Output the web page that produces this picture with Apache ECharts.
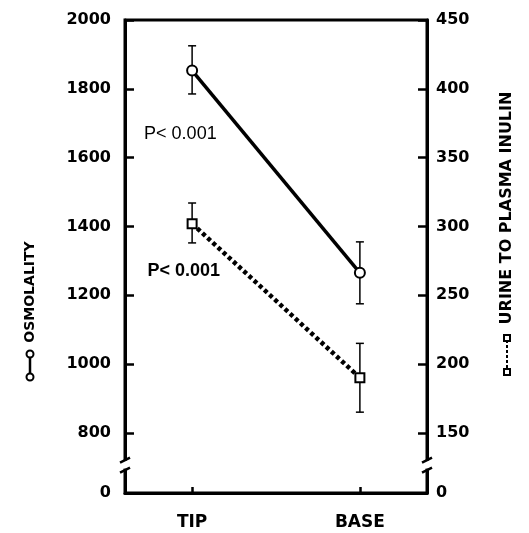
<!DOCTYPE html>
<html><head><meta charset="utf-8">
<script src="https://cdn.jsdelivr.net/npm/echarts@6/dist/echarts.min.js"></script>
<style>html,body{margin:0;padding:0;background:#fff}#c{width:529px;height:533px}</style>
</head><body><div id="c"></div>
<script>
// ---- data ----
const categories = ['TIP', 'BASE'];
const osmolality = [1853, 1265];
const osmolalityErr = [[1785, 1925], [1175, 1355]];
const inulin = [302, 190];
const inulinErr = [[288, 317], [165, 215]];
const leftTicks = [800, 1000, 1200, 1400, 1600, 1800, 2000];
const rightTicks = [150, 200, 250, 300, 350, 400, 450];
const leftZero = 625;     // axis value standing for "0" below the break
const rightZero = 106.25; // same for the right axis
const pLabels = ['P< 0.001', 'P< 0.001'];
const leftTitle = 'OSMOLALITY';
const rightTitle = 'URINE TO PLASMA INULIN';

const FONT = '"DejaVu Sans", "Liberation Sans", Arial, sans-serif';
const FONT2 = '"Liberation Sans", Arial, Helvetica, sans-serif';
const chart = echarts.init(document.getElementById('c'), null, {renderer: 'canvas'});

function errRender(params, api) {
  const x = api.value(0);
  const lo = api.coord([x, api.value(1)]);
  const hi = api.coord([x, api.value(2)]);
  const w = 4;
  const st = {stroke: '#000', lineWidth: 1.5};
  return {type: 'group', children: [
    {type: 'line', shape: {x1: lo[0], y1: lo[1], x2: hi[0], y2: hi[1]}, style: st},
    {type: 'line', shape: {x1: lo[0] - w, y1: lo[1], x2: lo[0] + w, y2: lo[1]}, style: st},
    {type: 'line', shape: {x1: hi[0] - w, y1: hi[1], x2: hi[0] + w, y2: hi[1]}, style: st}
  ]};
}

const axisLine = {show: true, onZero: false, lineStyle: {color: '#000', width: 3}};
const labelStyle = {color: '#000', fontFamily: FONT, fontWeight: 'bold', fontSize: 16};

const option = {
  animation: false,
  backgroundColor: '#fff',
  grid: {left: 125, right: 102, top: 20, bottom: 40, show: true, borderColor: '#000', borderWidth: 3, backgroundColor: 'transparent'},
  xAxis: {
    type: 'value', min: -0.4, max: 1.4,
    axisLine: axisLine,
    axisTick: {show: true, inside: true, length: 6, customValues: [0, 1], lineStyle: {color: '#000', width: 2.5}},
    axisLabel: Object.assign({}, labelStyle, {fontSize: 17, customValues: [0, 1], margin: 21, formatter: v => categories[Math.round(v)]}),
    splitLine: {show: false}
  },
  yAxis: [{
    type: 'value', min: leftZero, max: 2000, position: 'left',
    axisLine: axisLine,
    axisTick: {show: true, inside: true, length: 9, customValues: leftTicks, lineStyle: {color: '#000', width: 2.5}},
    axisLabel: Object.assign({}, labelStyle, {customValues: [leftZero].concat(leftTicks), margin: 14,
      formatter: v => (Math.abs(v - leftZero) < 1e-6 ? '0' : String(v))}),
    splitLine: {show: false}
  }, {
    type: 'value', min: rightZero, max: 450, position: 'right',
    axisLine: axisLine,
    axisTick: {show: true, inside: true, length: 9, customValues: rightTicks, lineStyle: {color: '#000', width: 2.5}},
    axisLabel: Object.assign({}, labelStyle, {customValues: [rightZero].concat(rightTicks), margin: 9,
      formatter: v => (Math.abs(v - rightZero) < 1e-6 ? '0' : String(v))}),
    splitLine: {show: false}
  }],
  series: [{
    type: 'custom', name: 'osmErr', yAxisIndex: 0, renderItem: errRender, z: 1,
    data: osmolalityErr.map((e, i) => [i, e[0], e[1]])
  }, {
    type: 'custom', name: 'inuErr', yAxisIndex: 1, renderItem: errRender, z: 1,
    data: inulinErr.map((e, i) => [i, e[0], e[1]])
  }, {
    type: 'line', name: leftTitle, yAxisIndex: 0, z: 3,
    data: osmolality.map((v, i) => [i, v]),
    symbol: 'circle', symbolSize: 10,
    itemStyle: {color: '#fff', borderColor: '#000', borderWidth: 2},
    lineStyle: {color: '#000', width: 3.5}
  }, {
    type: 'line', name: rightTitle, yAxisIndex: 1, z: 3,
    data: inulin.map((v, i) => [i, v]),
    symbol: 'rect', symbolSize: 9,
    itemStyle: {color: '#fff', borderColor: '#000', borderWidth: 2},
    lineStyle: {color: '#000', width: 4.5, type: [4, 3]}
  }]
};
chart.setOption(option);

// ---- decorations positioned through the axes ----
const lx = chart.convertToPixel({xAxisIndex: 0}, -0.4);
const rx = chart.convertToPixel({xAxisIndex: 0}, 1.4);
const ly1 = chart.convertToPixel({yAxisIndex: 0}, 722);
const ly2 = chart.convertToPixel({yAxisIndex: 0}, 693);
const graphics = [];
[lx, rx].forEach(x => {
  graphics.push({type: 'rect', shape: {x: x - 6, y: ly1 + 1, width: 12, height: ly2 - ly1 - 2}, style: {fill: '#fff'}, z: 100});
  graphics.push({type: 'line', shape: {x1: x - 5, y1: ly1 + 3, x2: x + 5, y2: ly1 - 2}, style: {stroke: '#000', lineWidth: 2.5}, z: 101});
  graphics.push({type: 'line', shape: {x1: x - 5, y1: ly2 + 3, x2: x + 5, y2: ly2 - 2}, style: {stroke: '#000', lineWidth: 2.5}, z: 101});
});
const p1 = chart.convertToPixel({xAxisIndex: 0, yAxisIndex: 0}, [-0.07, 1669]);
const p2 = chart.convertToPixel({xAxisIndex: 0, yAxisIndex: 0}, [-0.05, 1269]);
graphics.push({type: 'text', x: p1[0], y: p1[1], style: {text: pLabels[0], fill: '#000', font: '18px ' + FONT2, align: 'center', verticalAlign: 'middle'}, z: 50});
graphics.push({type: 'text', x: p2[0], y: p2[1], style: {text: pLabels[1], fill: '#000', font: 'bold 18px ' + FONT2, align: 'center', verticalAlign: 'middle'}, z: 50});

// left title with circle symbol
graphics.push({type: 'text', x: 30, y: 292, rotation: Math.PI / 2, style: {text: leftTitle, fill: '#000', font: 'bold 14px ' + FONT, align: 'center', verticalAlign: 'middle'}});
graphics.push({type: 'line', shape: {x1: 30, y1: 354, x2: 30, y2: 377}, style: {stroke: '#000', lineWidth: 2.5}});
graphics.push({type: 'circle', shape: {cx: 30, cy: 354, r: 3.5}, style: {fill: '#fff', stroke: '#000', lineWidth: 2}});
graphics.push({type: 'circle', shape: {cx: 30, cy: 377, r: 3.5}, style: {fill: '#fff', stroke: '#000', lineWidth: 2}});
// right title with square symbol
graphics.push({type: 'text', x: 507, y: 208, rotation: Math.PI / 2, style: {text: rightTitle, fill: '#000', font: 'bold 16px ' + FONT, align: 'center', verticalAlign: 'middle'}});
graphics.push({type: 'line', shape: {x1: 507, y1: 340, x2: 507, y2: 370}, style: {stroke: '#000', lineWidth: 2, lineDash: [3, 2]}});
graphics.push({type: 'rect', shape: {x: 504, y: 335, width: 6, height: 6}, style: {fill: '#fff', stroke: '#000', lineWidth: 2}});
graphics.push({type: 'rect', shape: {x: 504, y: 369, width: 6, height: 6}, style: {fill: '#fff', stroke: '#000', lineWidth: 2}});
chart.setOption({graphic: graphics});
</script>
</body></html>
